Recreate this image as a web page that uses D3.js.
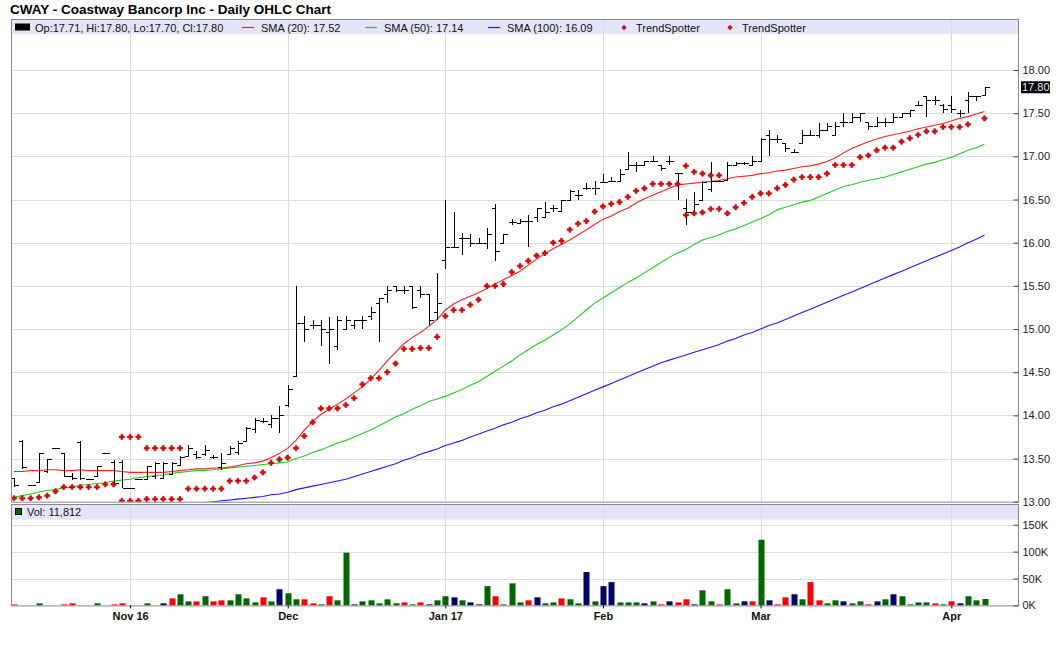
<!DOCTYPE html>
<html><head><meta charset="utf-8">
<script src="https://cdn.jsdelivr.net/npm/d3@7/dist/d3.min.js"></script>
<style>
body{margin:0;background:#fff;}
svg{display:block;font-family:"Liberation Sans",Arial,sans-serif;}
</style></head>
<body><svg id="c" width="1060" height="645"></svg>
<script>
// ---------------- DATA ----------------
const monthTicks = [{label:"Nov 16",idx:14},{label:"Dec",idx:33},{label:"Jan 17",idx:52},{label:"Feb",idx:71},{label:"Mar",idx:90},{label:"Apr",idx:113}];
const priceTicks = [13,13.5,14,14.5,15,15.5,16,16.5,17,17.5,18];
const volTicks = [0,50000,100000,150000];

const opens = [13.27,13.70,13.19,13.23,13.35,13.62,13.56,13.30,13.69,13.26,13.30,13.56,13.46,13.46,13.16,13.26,13.26,13.30,13.28,13.32,
13.42,13.53,13.55,13.55,13.52,13.40,13.55,13.57,13.70,13.84,13.93,13.90,13.97,14.12,14.46,15.07,15.05,15.05,14.96,14.80,
15.00,15.05,15.10,15.15,15.30,15.40,15.50,15.45,15.50,15.45,15.40,15.20,15.80,15.95,16.05,16.05,16.00,16.00,16.40,16.00,
16.24,16.23,16.25,16.30,16.30,16.40,16.37,16.50,16.55,16.63,16.63,16.70,16.72,16.72,16.85,16.90,16.90,16.95,16.90,16.95,
16.81,16.40,16.36,16.50,16.62,16.72,16.73,16.90,16.92,16.90,16.95,17.25,17.20,17.15,17.05,17.15,17.25,17.25,17.30,17.25,
17.40,17.40,17.45,17.40,17.35,17.40,17.40,17.46,17.50,17.60,17.70,17.65,17.60,17.60,17.50,17.65,17.70,17.71];
const highs = [13.27,13.71,13.19,13.56,13.50,13.62,13.56,13.33,13.70,13.26,13.41,13.56,13.48,13.48,13.16,13.26,13.41,13.46,13.46,13.46,
13.53,13.66,13.59,13.66,13.54,13.56,13.65,13.70,13.87,13.97,13.97,14.00,14.11,14.35,15.50,15.15,15.10,15.10,15.14,15.15,
15.15,15.10,15.15,15.26,15.36,15.50,15.50,15.50,15.50,15.50,15.41,15.65,16.50,16.36,16.11,16.10,16.05,16.17,16.45,16.10,
16.28,16.27,16.32,16.40,16.47,16.44,16.50,16.61,16.61,16.69,16.71,16.80,16.76,16.85,17.05,16.94,16.95,17.00,16.90,17.00,
16.81,16.51,16.59,16.71,16.94,16.73,16.94,16.94,16.94,17.00,17.21,17.30,17.25,17.15,17.09,17.30,17.30,17.39,17.39,17.40,
17.50,17.50,17.50,17.40,17.46,17.44,17.50,17.50,17.54,17.64,17.70,17.70,17.61,17.70,17.54,17.74,17.70,17.80];
const lows = [13.17,13.38,13.19,13.23,13.33,13.62,13.29,13.25,13.25,13.26,13.29,13.56,13.21,13.16,13.16,13.26,13.26,13.26,13.27,13.31,
13.41,13.52,13.49,13.53,13.49,13.37,13.54,13.54,13.70,13.79,13.91,13.85,13.80,14.10,14.46,14.85,15.00,14.80,14.60,14.76,
15.00,15.00,15.00,15.10,14.85,15.30,15.43,15.41,15.23,15.36,15.05,15.10,15.70,15.95,15.86,15.95,16.00,15.93,15.79,16.00,
16.20,16.23,15.95,16.24,16.29,16.35,16.37,16.50,16.50,16.61,16.55,16.69,16.71,16.71,16.85,16.82,16.90,16.94,16.83,16.90,
16.50,16.20,16.36,16.50,16.59,16.71,16.73,16.90,16.90,16.90,16.94,17.00,17.15,17.05,17.04,17.15,17.25,17.21,17.30,17.25,
17.34,17.39,17.40,17.30,17.34,17.34,17.39,17.46,17.46,17.58,17.46,17.59,17.50,17.50,17.46,17.50,17.64,17.70];
const closes = [13.19,13.40,13.19,13.56,13.50,13.62,13.30,13.27,13.28,13.26,13.41,13.56,13.22,13.16,13.16,13.26,13.41,13.45,13.45,13.45,
13.52,13.62,13.52,13.60,13.52,13.45,13.62,13.68,13.85,13.95,13.93,13.97,14.00,14.30,15.07,15.00,15.05,15.00,15.00,15.10,
15.10,15.10,15.10,15.20,15.36,15.45,15.45,15.45,15.25,15.40,15.10,15.30,15.95,15.95,16.05,16.00,16.00,16.10,15.90,16.10,
16.24,16.25,16.25,16.40,16.35,16.40,16.50,16.60,16.55,16.63,16.63,16.70,16.72,16.80,16.90,16.90,16.95,16.95,16.87,16.95,
16.81,16.35,16.45,16.70,16.72,16.72,16.90,16.92,16.92,16.95,17.20,17.20,17.20,17.10,17.05,17.25,17.25,17.30,17.35,17.35,
17.40,17.45,17.50,17.35,17.40,17.40,17.45,17.50,17.54,17.60,17.65,17.65,17.55,17.55,17.50,17.70,17.70,17.80];

const volumes = [1900,0,0,3800,0,0,1900,3800,0,0,3800,0,1900,3800,0,0,3800,0,3800,13000,
20700,7500,7500,17000,7500,9400,9400,20700,13000,5600,15000,7500,30000,22600,11300,11300,3800,1900,17000,9400,
98000,1900,7500,9400,3800,11300,3800,5600,1900,5600,1900,9400,17000,15000,9400,5600,1900,35800,17000,1900,
41000,5600,9400,15000,3800,5600,13000,11300,3800,62000,7500,35800,43300,5600,5600,5600,3800,7500,1900,7500,
5600,11300,1900,28000,7500,1900,30000,3800,7500,7500,122000,9400,1900,15000,20700,11300,43300,9400,3800,9400,
7500,3800,7500,1900,7500,11300,20700,17000,1900,5600,5600,3800,1900,7500,3800,17000,9400,11812];
// u = up day (green), d = down day (red), n = unchanged (navy)
const volDirList = ["d","","","u","","","d","d","","","u","","d","d","","","u","","n","d",
"u","u","d","u","d","d","u","u","u","u","d","u","n","u","u","d","d","u","d","u",
"u","n","u","u","u","u","u","d","u","d","n","u","u","n","u","n","n","u","d","u",
"u","u","d","n","u","u","d","u","u","n","u","n","n","u","u","u","n","u","d","n",
"d","d","n","u","u","d","u","u","n","d","u","n","d","d","n","u","d","d","u","u",
"n","u","u","d","n","u","n","u","u","u","u","d","u","d","n","u","u","u"];

const sma20 = [13.35,13.35,13.36,13.36,13.37,13.37,13.36,13.36,13.37,13.36,13.36,13.36,13.36,13.35,13.34,13.34,13.34,13.34,13.34,13.35,
13.36,13.37,13.38,13.38,13.39,13.39,13.40,13.42,13.44,13.45,13.47,13.51,13.56,13.62,13.71,13.83,13.93,14.01,14.07,14.13,
14.19,14.26,14.33,14.42,14.52,14.63,14.73,14.83,14.90,14.96,15.03,15.11,15.22,15.29,15.34,15.38,15.42,15.47,15.52,15.57,
15.62,15.67,15.74,15.81,15.87,15.93,15.98,16.03,16.09,16.15,16.21,16.27,16.31,16.36,16.40,16.46,16.51,16.55,16.59,16.63,
16.67,16.68,16.69,16.70,16.71,16.72,16.74,16.76,16.77,16.78,16.80,16.81,16.83,16.84,16.86,16.88,16.89,16.91,16.94,16.98,
17.04,17.09,17.13,17.17,17.20,17.23,17.25,17.27,17.29,17.32,17.34,17.36,17.38,17.41,17.44,17.46,17.49,17.52];
const sma50 = [13.05,13.07,13.09,13.11,13.13,13.14,13.16,13.17,13.19,13.20,13.21,13.22,13.24,13.25,13.26,13.28,13.29,13.30,13.31,13.33,
13.34,13.35,13.36,13.36,13.37,13.38,13.39,13.40,13.41,13.42,13.43,13.44,13.45,13.46,13.50,13.53,13.57,13.60,13.64,13.68,
13.71,13.75,13.79,13.83,13.88,13.93,13.98,14.02,14.07,14.11,14.16,14.19,14.22,14.26,14.30,14.35,14.39,14.45,14.51,14.57,
14.63,14.70,14.76,14.82,14.87,14.93,14.99,15.06,15.14,15.22,15.30,15.36,15.42,15.48,15.54,15.59,15.65,15.71,15.77,15.83,
15.88,15.92,15.98,16.03,16.06,16.09,16.13,16.16,16.20,16.24,16.28,16.32,16.38,16.41,16.44,16.47,16.49,16.53,16.57,16.61,
16.65,16.67,16.70,16.72,16.74,16.76,16.79,16.82,16.85,16.88,16.91,16.93,16.96,16.99,17.03,17.07,17.10,17.14];
const sma100 = [null,null,null,null,null,null,null,null,null,null,null,null,null,null,null,null,null,null,null,null,
12.96,12.97,12.98,12.99,13.00,13.01,13.02,13.03,13.04,13.05,13.06,13.08,13.09,13.11,13.14,13.16,13.18,13.20,13.22,13.24,
13.26,13.29,13.32,13.35,13.38,13.41,13.44,13.48,13.51,13.55,13.58,13.61,13.65,13.68,13.71,13.75,13.78,13.82,13.85,13.89,
13.92,13.96,13.99,14.03,14.06,14.10,14.13,14.17,14.21,14.25,14.29,14.33,14.37,14.41,14.45,14.49,14.53,14.57,14.61,14.64,
14.67,14.70,14.73,14.76,14.79,14.82,14.86,14.89,14.93,14.96,15.00,15.04,15.07,15.11,15.15,15.19,15.23,15.27,15.31,15.35,
15.39,15.43,15.47,15.51,15.55,15.59,15.63,15.67,15.71,15.75,15.79,15.83,15.87,15.91,15.95,16.00,16.04,16.09];

const trendA = [13.04,13.04,13.04,13.05,13.07,13.12,13.17,13.17,13.17,13.17,13.17,13.20,13.20,13.01,13.01,13.01,13.03,13.03,13.03,13.03,
13.03,13.15,13.15,13.15,13.15,13.15,13.24,13.24,13.24,13.28,13.34,13.45,13.49,13.51,13.62,13.76,13.92,14.08,14.08,14.08,
14.12,14.20,14.36,14.43,14.43,14.50,14.60,14.77,14.77,14.78,14.78,14.91,15.15,15.22,15.22,15.28,15.34,15.50,15.50,15.52,
15.66,15.73,15.79,15.85,15.88,16.00,16.02,16.15,16.22,16.25,16.36,16.42,16.45,16.47,16.53,16.60,16.63,16.68,16.68,16.68,
16.68,16.32,16.34,16.35,16.39,16.39,16.34,16.41,16.46,16.53,16.57,16.57,16.63,16.67,16.73,16.76,16.76,16.76,16.80,16.90,
16.90,16.90,16.99,17.01,17.07,17.10,17.10,17.17,17.21,17.25,17.29,17.29,17.34,17.34,17.34,17.37,null,17.44];
const trendB = [null,null,null,null,null,null,null,null,null,null,null,null,null,13.75,13.75,13.75,13.62,13.62,13.62,13.62,
13.62,null,null,null,null,null,null,null,null,null,null,null,null,null,null,null,null,null,null,null,
null,null,null,null,null,null,null,null,null,null,null,null,null,null,null,null,null,null,null,null,
null,null,null,null,null,null,null,null,null,null,null,null,null,null,null,null,null,null,null,null,
null,16.89,16.82,16.80,16.78,16.78,null,null,null,null,null,null,null,null,null,null,null,null,null,null,
null,null,null,null,null,null,null,null,null,null,null,null,null,null,null,null,null,null];

// ---------------- CHART ----------------
const svg = d3.select("#c");
const L = 11, R = 1018;
const P = {top:19, band:34, bottom:501.7};
const V = {top:504, band:519.5, bottom:605.4};
const gridC = "#dcdcdc", borderC = "#8a8a8a", bandC = "#e4e4fa";
const N = closes.length;

const x = d3.scaleLinear().domain([0, N-1]).range([14, 984.5]);
const yP = d3.scaleLinear().domain([13, 18]).range([P.bottom, 70]);
const yV = d3.scaleLinear().domain([0, 150000]).range([V.bottom, 524.7]);

svg.append("text").attr("x",10).attr("y",14).attr("font-size",13.5).attr("font-weight","bold").attr("fill","#000")
  .text("CWAY - Coastway Bancorp Inc - Daily OHLC Chart");

svg.append("rect").attr("x",L).attr("y",P.top+1).attr("width",R-L).attr("height",P.band-P.top-1).attr("fill",bandC);
svg.append("rect").attr("x",L).attr("y",V.top+1).attr("width",R-L).attr("height",V.band-V.top-1).attr("fill",bandC);

svg.append("g").selectAll("line").data(priceTicks.filter(d=>d>13)).join("line")
  .attr("x1",L).attr("x2",R).attr("y1",d=>Math.round(yP(d))+0.5).attr("y2",d=>Math.round(yP(d))+0.5)
  .attr("stroke",gridC);
svg.append("g").selectAll("line").data(volTicks.filter(d=>d>0)).join("line")
  .attr("x1",L).attr("x2",R).attr("y1",d=>Math.round(yV(d))+0.5).attr("y2",d=>Math.round(yV(d))+0.5)
  .attr("stroke",gridC);
const vg = svg.append("g");
monthTicks.forEach(m=>{
  const xx = Math.round(x(m.idx))+0.5;
  vg.append("line").attr("x1",xx).attr("x2",xx).attr("y1",P.top).attr("y2",P.bottom).attr("stroke",gridC);
  vg.append("line").attr("x1",xx).attr("x2",xx).attr("y1",V.top).attr("y2",V.bottom).attr("stroke",gridC);
});

svg.append("clipPath").attr("id","pclip").append("rect").attr("x",L).attr("y",P.band).attr("width",R-L).attr("height",P.bottom-P.band);
const plot = svg.append("g").attr("clip-path","url(#pclip)");

function smaLine(arr,color){
  const ln = d3.line().defined(d=>d!=null).x((d,i)=>x(i)).y(d=>yP(d));
  plot.append("path").datum(arr).attr("d",ln).attr("fill","none").attr("stroke",color).attr("stroke-width",1.1);
}
smaLine(sma100,"#1a1aff");
smaLine(sma50,"#22cc22");
smaLine(sma20,"#ff2020");

const ob = plot.append("g").attr("stroke","#000").attr("stroke-width",1).attr("shape-rendering","crispEdges");
for(let i=0;i<N;i++){
  const xx = Math.round(x(i))+0.5;
  const yh = Math.round(yP(highs[i])), yl = Math.round(yP(lows[i]));
  ob.append("line").attr("x1",xx).attr("x2",xx).attr("y1",yh).attr("y2",Math.max(yl,yh+1));
  const yo = Math.round(yP(opens[i]))+0.5, yc = Math.round(yP(closes[i]))+0.5;
  ob.append("line").attr("x1",xx-4).attr("x2",xx).attr("y1",yo).attr("y2",yo);
  ob.append("line").attr("x1",xx).attr("x2",xx+4).attr("y1",yc).attr("y2",yc);
}

const sym = d3.symbol().type(d3.symbolCross).size(15);
[trendA,trendB].forEach(arr=>{
  plot.append("g").selectAll("path").data(arr.map((v,i)=>({v,i})).filter(d=>d.v!=null)).join("path")
    .attr("d",sym).attr("transform",d=>`translate(${x(d.i)},${yP(d.v)})`)
    .attr("fill","#ee0000").attr("stroke","#b00000").attr("stroke-width",0.6);
});

const volColor = {u:"#006600",d:"#ff0000",n:"#000066"};
svg.append("g").selectAll("rect").data(volumes.map((v,i)=>({v,i,c:volDirList[i]})).filter(d=>d.v>0)).join("rect")
  .attr("x",d=>Math.round(x(d.i))-2.5).attr("width",6)
  .attr("y",d=>yV(d.v)).attr("height",d=>V.bottom-yV(d.v))
  .attr("fill",d=>volColor[d.c]||"#006600");

svg.append("rect").attr("x",L+0.5).attr("y",P.top+0.5).attr("width",R-L).attr("height",P.bottom-P.top).attr("fill","none").attr("stroke",borderC);
svg.append("rect").attr("x",L+0.5).attr("y",V.top+0.5).attr("width",R-L).attr("height",V.bottom-V.top).attr("fill","none").attr("stroke",borderC);

const pa = svg.append("g").attr("transform",`translate(${R+0.5},0)`)
  .call(d3.axisRight(yP).tickValues(priceTicks).tickFormat(d3.format(".2f")).tickSize(-5).tickPadding(4));
pa.select(".domain").remove();
pa.selectAll("line").attr("stroke","#444");
pa.selectAll("text").attr("font-size",11).attr("font-family","Liberation Sans, Arial, sans-serif").attr("fill","#222");

const va = svg.append("g").attr("transform",`translate(${R+0.5},0)`)
  .call(d3.axisRight(yV).tickValues(volTicks).tickFormat(d=>(d/1000)+"K").tickSize(-5).tickPadding(4));
va.select(".domain").remove();
va.selectAll("line").attr("stroke","#444");
va.selectAll("text").attr("font-size",11).attr("font-family","Liberation Sans, Arial, sans-serif").attr("fill","#222");

const last = closes[N-1];
svg.append("rect").attr("x",R+3).attr("y",yP(last)-6).attr("width",29).attr("height",12).attr("fill","#000");
svg.append("text").attr("x",R+4).attr("y",yP(last)+4).attr("font-size",11).attr("fill","#e8f0ff").text(last.toFixed(2));

const xa = svg.append("g").attr("transform",`translate(0,${V.bottom})`)
  .call(d3.axisBottom(x).tickValues(monthTicks.map(m=>m.idx)).tickFormat((d,i)=>monthTicks[i].label).tickSize(3).tickPadding(4));
xa.select(".domain").remove();
xa.selectAll("line").attr("stroke","#000");
xa.selectAll("text").attr("font-size",11).attr("font-weight","bold").attr("font-family","Liberation Sans, Arial, sans-serif").attr("fill","#111");

const lg = svg.append("g").attr("font-size",11).attr("fill","#111");
lg.append("rect").attr("x",15).attr("y",23.5).attr("width",15).attr("height",7).attr("fill","#000");
lg.append("text").attr("x",35).attr("y",31.5).text(`Op:${opens[N-1].toFixed(2)}, Hi:${highs[N-1].toFixed(2)}, Lo:${lows[N-1].toFixed(2)}, Cl:${closes[N-1].toFixed(2)}`);
[[242,"#ff2020",`SMA (20): ${sma20[N-1].toFixed(2)}`],[365,"#22cc22",`SMA (50): ${sma50[N-1].toFixed(2)}`],[488,"#1a1aff",`SMA (100): ${sma100[N-1].toFixed(2)}`]]
 .forEach(([lx,c,t])=>{
  lg.append("line").attr("x1",lx).attr("x2",lx+12).attr("y1",27.5).attr("y2",27.5).attr("stroke",c).attr("stroke-width",1.2);
  lg.append("text").attr("x",lx+19).attr("y",31.5).text(t);
 });
[624,730].forEach(lx=>{
  lg.append("path").attr("d",d3.symbol().type(d3.symbolCross).size(9)).attr("transform",`translate(${lx},27.5)`).attr("fill","#ee0000").attr("stroke","#b00000").attr("stroke-width",0.6);
  lg.append("text").attr("x",lx+12).attr("y",31.5).text("TrendSpotter");
});
const vl = svg.append("g").attr("font-size",11).attr("fill","#111");
vl.append("rect").attr("x",15.5).attr("y",508.5).attr("width",6).attr("height",6).attr("fill","#006600").attr("stroke","#000");
vl.append("text").attr("x",27).attr("y",516).text(`Vol: ${d3.format(",")(volumes[N-1])}`);
</script></body></html>
